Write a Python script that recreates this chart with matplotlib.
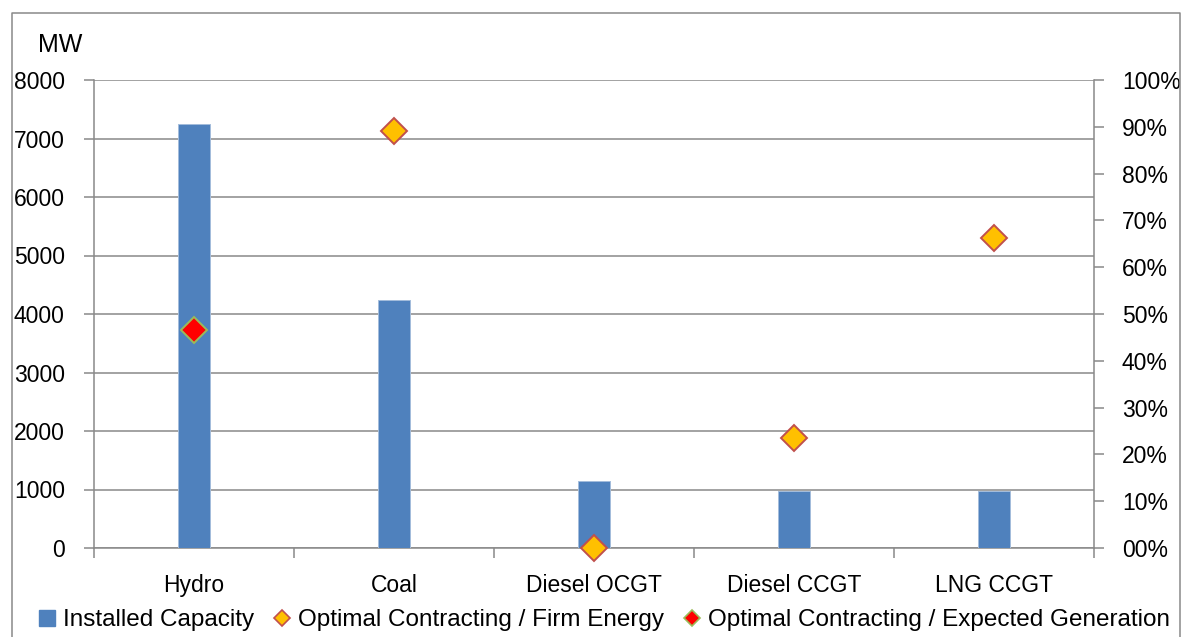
import numpy as np
import matplotlib
matplotlib.use("Agg")
import matplotlib.pyplot as plt
from matplotlib.lines import Line2D

plt.rcParams['font.family'] = ['Liberation Sans', 'DejaVu Sans']

# Data
categories = ["Hydro", "Coal", "Diesel OCGT", "Diesel CCGT", "LNG CCGT"]
installed_capacity = [7250, 4235, 1150, 980, 980]               # MW
firm_energy_ratio = [np.nan, 89.1, 0.0, 23.6, 66.2]             # %
expected_gen_ratio = [46.6, np.nan, np.nan, np.nan, np.nan]     # %
mw_ticks = [0, 1000, 2000, 3000, 4000, 5000, 6000, 7000, 8000]
pct_ticks = [0, 10, 20, 30, 40, 50, 60, 70, 80, 90, 100]

W, H = 1183, 637
fig = plt.figure(figsize=(W / 100, H / 100), dpi=100)

GRAY = "#898989"
BAR = "#4F81BD"

L, R, B, T = 94, 1094, 548, 80
ax = fig.add_axes([L / W, 1 - B / H, (R - L) / W, (B - T) / H])
x = np.arange(len(categories))

ax.bar(x, installed_capacity, width=0.163, color=BAR, edgecolor="#A3BCDB",
       linewidth=0.7, zorder=3)

ax.set_xlim(-0.5, len(categories) - 0.5)
ax.set_ylim(0, 8000)
ax.set_yticks(mw_ticks)
ax.set_yticklabels([str(v) for v in mw_ticks])
ax.yaxis.grid(True, color=GRAY, linewidth=1.1, zorder=0)
ax.set_axisbelow(True)

ax.set_xticks(x)
ax.set_xticklabels(categories)
ax.set_xticks(np.arange(-0.5, len(categories)), minor=True)
ax.tick_params(axis="x", which="major", length=0, pad=19, labelsize=16.5)
ax.tick_params(axis="x", which="minor", length=7, width=1.1, color=GRAY,
               direction="out")
ax.tick_params(axis="y", length=7, width=1.1, color=GRAY, direction="out",
               pad=14, labelsize=16.5)

for side in ("top", "right"):
    ax.spines[side].set_visible(False)
for side in ("left", "bottom"):
    ax.spines[side].set_color(GRAY)
    ax.spines[side].set_linewidth(1.1)

# Secondary percentage axis
ax2 = ax.twinx()
ax2.set_ylim(0, 100)
ax2.set_yticks(pct_ticks)
ax2.set_yticklabels([f"{v:02d}%" for v in pct_ticks])
ax2.tick_params(axis="y", length=7, width=1.1, color=GRAY, direction="out",
                pad=13, labelsize=16.5)
for side in ("top", "left", "bottom"):
    ax2.spines[side].set_visible(False)
ax2.spines["right"].set_color(GRAY)
ax2.spines["right"].set_linewidth(1.1)

ax2.plot(x, firm_energy_ratio, linestyle="none", marker="D", markersize=13,
         markerfacecolor="#FFC000", markeredgecolor="#C0504D",
         markeredgewidth=1.4, clip_on=False, zorder=5)
ax2.plot(x, expected_gen_ratio, linestyle="none", marker="D", markersize=13,
         markerfacecolor="#FF0000", markeredgecolor="#9BBB59",
         markeredgewidth=1.4, clip_on=False, zorder=5)

# Unit label
fig.text(38 / W, 1 - 52 / H, "MW", fontsize=18, ha="left", va="baseline")

# Legend
handles = [
    Line2D([], [], linestyle="none", marker="s", markersize=11,
           markerfacecolor=BAR, markeredgecolor=BAR),
    Line2D([], [], linestyle="none", marker="D", markersize=8.5,
           markerfacecolor="#FFC000", markeredgecolor="#C0504D",
           markeredgewidth=1.2),
    Line2D([], [], linestyle="none", marker="D", markersize=8.5,
           markerfacecolor="#FF0000", markeredgecolor="#9BBB59",
           markeredgewidth=1.2),
]
labels = ["Installed Capacity", "Optimal Contracting / Firm Energy",
          "Optimal Contracting / Expected Generation"]
fig.legend(handles, labels, loc="center", ncol=3, frameon=False,
           bbox_to_anchor=(604 / W, 1 - 620 / H), fontsize=17.5,
           handlelength=0.75, handletextpad=0.3, columnspacing=0.75,
           borderaxespad=0, borderpad=0)

# Chart area border (open at the bottom edge)
bx0, by0, bx1 = 12, 13, 1180
border = Line2D([bx0 / W, bx0 / W, bx1 / W, bx1 / W],
                [-0.05, 1 - by0 / H, 1 - by0 / H, -0.05],
                transform=fig.transFigure, color=GRAY, linewidth=1.1)
fig.add_artist(border)

fig.savefig("out.png", dpi=100)
